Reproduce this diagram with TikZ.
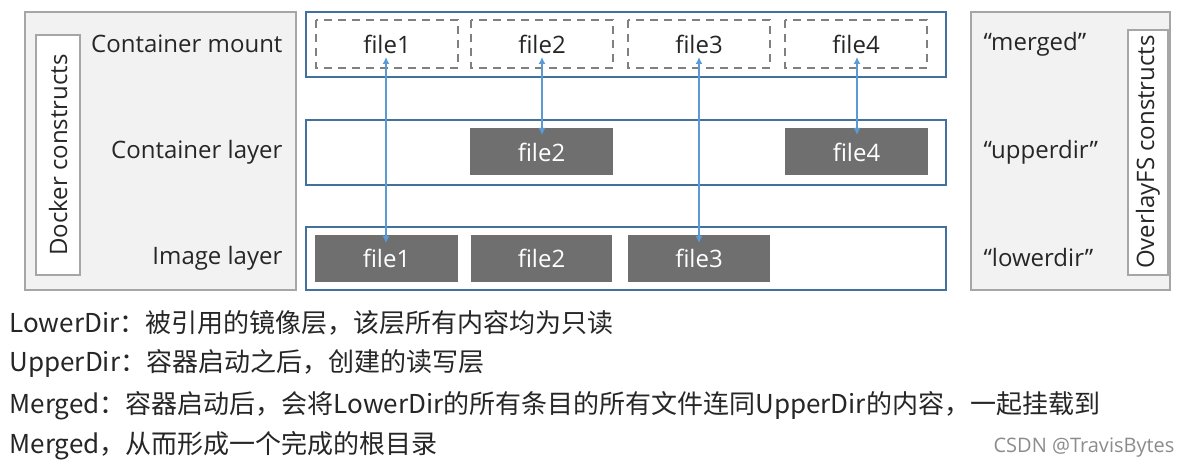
\documentclass[tikz,border=0pt]{standalone}
\usepackage{fontspec}
\setmainfont{Open Sans}
\newfontfamily\cjk{Noto Sans CJK SC}
\usetikzlibrary{arrows.meta}
\definecolor{panel}{HTML}{F2F2F2}
\definecolor{pborder}{HTML}{A6A6A6}
\definecolor{bborder}{HTML}{41719C}
\definecolor{fgray}{HTML}{6F6F6F}
\definecolor{ablue}{HTML}{5B9BD5}
\begin{document}
\begin{tikzpicture}[x=1pt,y=-1pt,
  lbl/.style={font=\fontsize{24}{28}\selectfont,text=black!85},
  dbox/.style={draw=gray,dashed,dash pattern=on 8pt off 6pt,line width=1.8pt},
  gbox/.style={fill=fgray,text=white,font=\fontsize{24}{28}\selectfont},
  layer/.style={draw=bborder,line width=2pt,fill=white},
  arr/.style={draw=ablue,line width=2pt,{Latex[length=7pt,width=7pt]}-{Latex[length=7pt,width=7pt]}},
  para/.style={anchor=west,font=\cjk\fontsize{26}{30}\selectfont,text=black!85}]
\useasboundingbox (0,0) rectangle (1186,470);
\fill[white] (0,0) rectangle (1186,470);
% left panel
\draw[draw=pborder,fill=panel,line width=1.5pt] (25,12) rectangle (296,290);
\draw[draw=pborder,fill=white,line width=1.5pt] (36,35) rectangle (80,275);
\node[lbl,rotate=90] (dc) at (58,155) {Docker constructs};
\node[lbl,anchor=east] (cm) at (286,44) {Container mount};
\node[lbl,anchor=east] (cl) at (286,152) {Container layer};
\node[lbl,anchor=east] (il) at (286,258) {Image layer};
% right panel
\draw[draw=pborder,fill=panel,line width=1.5pt] (971,12) rectangle (1170,290);
\draw[draw=pborder,fill=white,line width=1.5pt] (1128,30) rectangle (1168,275);
\node[lbl,rotate=90] (oc) at (1148,152) {OverlayFS constructs};
\node[lbl,anchor=west] (mg) at (980,44) {“merged”};
\node[lbl,anchor=west] (ud) at (980,152) {“upperdir”};
\node[lbl,anchor=west] (ld) at (980,258) {“lowerdir”};
% layers
\draw[layer] (306,12) rectangle (946,77);
\draw[layer] (306,120) rectangle (946,185);
\draw[layer] (306,227) rectangle (946,290);
% mount files
\foreach \n/\x in {1/316,2/471,3/628,4/785}{
  \draw[dbox] (\x,20) rectangle ++(142,48);
  \node[lbl] (m\n) at (\x+71,44) {file\n};
}
\fill[fgray] (470,128) rectangle (613,175); \node[gbox] (u2) at (541.5,152) {file2};
\fill[fgray] (785,128) rectangle (928,175); \node[gbox] (u4) at (856.5,152) {file4};
\fill[fgray] (315,235) rectangle (458,282); \node[gbox] (l1) at (386.5,258) {file1};
\fill[fgray] (471,235) rectangle (612,282); \node[gbox] (l2) at (541.5,258) {file2};
\fill[fgray] (628,235) rectangle (770,282); \node[gbox] (l3) at (699,258) {file3};
\coordinate (t1) at (386,57); \coordinate (b1) at (386,243);
\coordinate (t2) at (542,57); \coordinate (b2) at (542,135);
\coordinate (t3) at (699,57); \coordinate (b3) at (699,243);
\coordinate (t4) at (857,57); \coordinate (b4) at (857,135);
\foreach \i in {1,2,3,4}{\draw[arr] (t\i) -- (b\i);}
% text
\node[para] (p1) at (6,323) {LowerDir：被引用的镜像层，该层所有内容均为只读};
\node[para] (p2) at (6,363) {UpperDir：容器启动之后，创建的读写层};
\node[para] (p3) at (6,406) {Merged：容器启动后，会将LowerDir的所有条目的所有文件连同UpperDir的内容，一起挂载到};
\node[para] (p4) at (6,446) {Merged，从而形成一个完成的根目录};
\node[anchor=east,font=\fontsize{20}{24}\selectfont,text=black!45] (wm) at (1178,448) {CSDN @TravisBytes};
\end{tikzpicture}
\end{document}
